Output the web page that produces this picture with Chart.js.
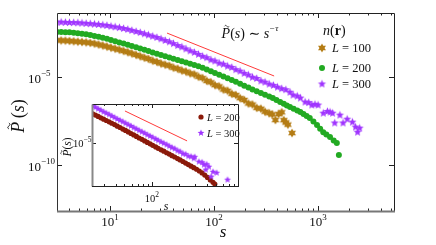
<!DOCTYPE html>
<html>
<head>
<meta charset="utf-8">
<script src="https://cdn.jsdelivr.net/npm/chart.js@4.4.1/dist/chart.umd.min.js"></script>
<style>
  html, body { margin: 0; padding: 0; background: #fff; }
  #wrap { position: relative; width: 436px; height: 245px; }
  #wrap canvas { position: absolute; left: 0; top: 0; }
</style>
</head>
<body>
<div id="wrap">
  <canvas id="main" width="436" height="245"></canvas>
  <canvas id="inset" width="436" height="245"></canvas>
</div>
<script>
// ---- main panel: cluster size s, log10 of P(s) ----
const sGrid = [3.09, 3.39, 3.72, 4.07, 4.47, 4.90, 5.37, 5.89, 6.46, 7.08, 7.76, 8.51, 9.33, 10.2, 11.2, 12.3, 13.5, 14.8, 16.2, 17.8,
  19.5, 21.4, 23.4, 25.7, 28.2, 30.9, 33.9, 37.2, 40.7, 44.7, 49.0, 53.7, 58.9, 64.6, 70.8, 77.6, 85.1, 93.3, 102, 112,
  123, 135, 148, 162, 178, 195, 214, 234, 257, 282, 309];

const logP100 = [-2.91, -2.92, -2.93, -2.95, -2.97, -2.99, -3.01, -3.03, -3.06, -3.10, -3.15, -3.21, -3.27, -3.33, -3.39, -3.45, -3.52, -3.59, -3.66, -3.74,
  -3.82, -3.90, -3.97, -4.07, -4.14, -4.23, -4.30, -4.36, -4.47, -4.53, -4.63, -4.69, -4.79, -4.85, -4.98, -5.06, -5.22, -5.30, -5.46, -5.53,
  -5.71, -5.78, -5.95, -6.02, -6.20, -6.30, -6.50, -6.56, -6.75, -6.80, -6.97];
const logP200 = [-2.44, -2.44, -2.45, -2.46, -2.48, -2.51, -2.54, -2.57, -2.61, -2.66, -2.71, -2.77, -2.83, -2.89, -2.96, -3.03, -3.10, -3.17, -3.24, -3.31,
  -3.38, -3.45, -3.52, -3.60, -3.68, -3.75, -3.82, -3.89, -3.96, -4.03, -4.10, -4.17, -4.24, -4.31, -4.39, -4.47, -4.57, -4.67, -4.77, -4.87,
  -4.97, -5.07, -5.17, -5.27, -5.38, -5.49, -5.60, -5.70, -5.80, -5.90, -6.00];
const logP300 = [-1.875, -1.88, -1.89, -1.90, -1.905, -1.915, -1.93, -1.95, -1.97, -1.99, -2.01, -2.04, -2.07, -2.11, -2.15, -2.19, -2.24, -2.29, -2.35, -2.41,
  -2.47, -2.54, -2.61, -2.68, -2.75, -2.83, -2.92, -3.00, -3.10, -3.21, -3.29, -3.40, -3.51, -3.60, -3.71, -3.82, -3.90, -4.02, -4.09, -4.21,
  -4.27, -4.38, -4.45, -4.58, -4.66, -4.79, -4.88, -5.01, -5.08, -5.22, -5.29];

// noisy large-s ends
const tailS100 = [339, 363, 389, 417, 447, 468, 490, 513, 562];
const tailP100 = [-7.05, -7.12, -7.44, -7.10, -7.00, -7.45, -7.58, -7.70, -8.18];
const tailS200 = [339, 367, 398, 432, 468, 501, 537, 582, 631, 676, 724, 776, 832, 902, 977, 1047, 1122, 1202, 1303, 1413, 1514, 1585];
const tailP200 = [-6.10, -6.19, -6.30, -6.42, -6.52, -6.61, -6.70, -6.80, -6.90, -6.99, -7.10, -7.21, -7.33, -7.52, -7.73, -7.93, -8.13, -8.26, -8.41, -8.60, -8.75, -9.43];
const tailS300 = [339, 372, 407, 447, 490, 537, 575, 631, 676, 750, 813, 871, 933, 1000, 1122, 1230, 1303, 1380, 1445, 1622, 1738, 1905, 2138, 2291, 2399, 2512];
const tailP300 = [-5.40, -5.47, -5.57, -5.66, -5.72, -5.86, -6.02, -6.08, -6.19, -6.42, -6.45, -6.59, -6.55, -6.59, -7.05, -6.95, -6.99, -7.05, -7.61, -7.16, -7.61, -7.39, -7.56, -7.84, -8.13, -7.90];

// guide line P ~ s^-tau
const guideS = [35.3, 378];
const guideP = [3.16e-3, 1.15e-5];

// ---- inset ----
const sInset = [22.4, 24.0, 25.7, 27.5, 29.5, 31.6, 33.9, 36.3, 38.9, 41.7, 44.7, 47.9, 51.3, 55.0, 58.9, 63.1, 67.6, 72.4, 77.6, 83.2,
  89.1, 95.5, 102, 110, 117, 126, 135, 145, 155, 166, 178, 191, 204, 219, 234, 251, 269, 288, 309, 331,
  355, 380, 407, 437, 468, 490];
const insetP200 = [-3.51, -3.57, -3.64, -3.71, -3.78, -3.85, -3.92, -3.99, -4.06, -4.14, -4.21, -4.29, -4.36, -4.44, -4.52, -4.59, -4.67, -4.75, -4.82, -4.90,
  -4.98, -5.05, -5.13, -5.21, -5.28, -5.36, -5.43, -5.51, -5.58, -5.66, -5.73, -5.81, -5.88, -5.96, -6.04, -6.12, -6.20, -6.28, -6.36, -6.45,
  -6.55, -6.66, -6.78, -6.91, -7.03, -7.12];
const insetP300 = [-3.10, -3.17, -3.25, -3.32, -3.40, -3.47, -3.54, -3.62, -3.69, -3.77, -3.84, -3.91, -3.99, -4.06, -4.13, -4.21, -4.28, -4.36, -4.43, -4.50,
  -4.58, -4.65, -4.72, -4.80, -4.87, -4.95, -5.02, -5.09, -5.17, -5.24, -5.30, -5.40, -5.45, -5.56, -5.58, -5.69, -5.70];
const insetTailS300 = [288, 295, 327, 355, 372, 389, 398, 422, 447, 468, 513, 676];
const insetTailP300 = [-5.80, -5.72, -5.97, -6.00, -6.13, -6.38, -6.10, -6.23, -6.74, -6.49, -6.54, -6.90];
const insetGuideS = [50.6, 243];
const insetGuideP = [4.37e-4, 1.26e-5];

const seriesLabels = ['L = 100', 'L = 200', 'L = 300'];
const xTickLabels = { 10: '1', 100: '2', 1000: '3' };
const yTickLabels = { 1e-5: '\u22125', 1e-10: '\u221210' };

const brown = '#b47c14';
const green = '#22aa22';
const purple = '#a035ff';
const darkRed = '#8b1a0a';
const guideRed = '#ff3a3a';

const serif = '"Liberation Serif", "DejaVu Serif", serif';
const fnt = (px, st) => (st ? st + ' ' : '') + px + 'px ' + serif;

function toPoints(xs, logs) {
  return logs.map((v, i) => ({ x: xs[i], y: Math.pow(10, v) }));
}

function starImage(points, outer, inner, color) {
  const c = document.createElement('canvas');
  const size = Math.ceil(outer * 2 + 2);
  c.width = size; c.height = size;
  const g = c.getContext('2d');
  g.translate(size / 2, size / 2);
  g.beginPath();
  for (let i = 0; i < points * 2; i++) {
    const r = i % 2 ? inner : outer;
    const a = -Math.PI / 2 + i * Math.PI / points;
    g.lineTo(r * Math.cos(a), r * Math.sin(a));
  }
  g.closePath();
  g.fillStyle = color;
  g.fill();
  return c;
}

const star6 = starImage(6, 4.6, 2.5, brown);
const star5 = starImage(5, 4.3, 1.9, purple);
const star5small = starImage(5, 3.6, 1.6, purple);

function drawTilde(ctx, cx, cy, w) {
  ctx.save();
  ctx.strokeStyle = ctx.fillStyle;
  ctx.lineWidth = Math.max(0.8, w * 0.16);
  ctx.beginPath();
  for (let i = 0; i <= 12; i++) {
    const t = i / 12;
    ctx.lineTo(cx - w / 2 + t * w, cy - Math.sin(t * 2 * Math.PI) * w * 0.18);
  }
  ctx.stroke();
  ctx.restore();
}

// parts: [text, font, dy, tildeSize]
function drawParts(ctx, parts, x, y, align) {
  let total = 0;
  const widths = parts.map(p => { ctx.font = p[1]; const w = ctx.measureText(p[0]).width; total += w; return w; });
  let cx = align === 'center' ? x - total / 2 : align === 'right' ? x - total : x;
  parts.forEach((p, i) => {
    ctx.font = p[1];
    ctx.fillText(p[0], cx, y + (p[2] || 0));
    if (p[3]) drawTilde(ctx, cx + widths[i] * 0.62, y - p[3] * 0.84, p[3] * 0.34);
    cx += widths[i];
  });
}

function pTilde(size) {
  return [['P', fnt(size, 'italic'), 0, size], ['(', fnt(size)], ['s', fnt(size, 'italic')], [')', fnt(size)]];
}

function drawFrame(chart, cfg) {
  const ctx = chart.ctx, a = chart.chartArea, xs = chart.scales.x, ys = chart.scales.y;
  ctx.save();
  ctx.strokeStyle = '#222';
  ctx.lineWidth = 1;
  const seg = (x1, y1, x2, y2) => { ctx.beginPath(); ctx.moveTo(x1, y1); ctx.lineTo(x2, y2); ctx.stroke(); };
  const xt = (v, len) => {
    const px = Math.round(xs.getPixelForValue(v)) + 0.5;
    seg(px, a.bottom, px, a.bottom - len);
    seg(px, a.top, px, a.top + len);
  };
  const yt = (v, len) => {
    const py = Math.round(ys.getPixelForValue(v)) + 0.5;
    seg(a.left, py, a.left + len, py);
    seg(a.right, py, a.right - len, py);
  };
  cfg.xMinor.forEach(v => xt(v, cfg.minor));
  cfg.xMajor.forEach(v => xt(v, cfg.major));
  cfg.yMajor.forEach(v => yt(v, cfg.major));
  // box
  const L = Math.round(a.left) + 0.5, R = Math.round(a.right) + 0.5, T = Math.round(a.top) + 0.5, B = Math.round(a.bottom) + 0.5;
  seg(L, T, R, T);
  seg(R, T, R, B);
  ctx.strokeStyle = cfg.leftColor; ctx.lineWidth = cfg.leftWidth;
  seg(L, T, L, B);
  ctx.strokeStyle = cfg.bottomColor; ctx.lineWidth = cfg.bottomWidth;
  seg(L - 0.5, B, R + 0.5, B);
  ctx.restore();
}

function minorsBetween(from, to) {
  const out = [];
  for (let d = from; d < to; d *= 10) for (let k = 2; k <= 9; k++) out.push(k * d);
  return out;
}

const mainPlugin = {
  id: 'mainDecor',
  afterDatasetsDraw(chart) {
    const ctx = chart.ctx, xs = chart.scales.x, ys = chart.scales.y;
    drawFrame(chart, {
      xMajor: [10, 100, 1000], xMinor: minorsBetween(1, 10000).filter(v => v > 3.1 && v < 5300),
      yMajor: [1e-5, 1e-10], major: 5, minor: 2.5,
      leftColor: '#333', leftWidth: 1, bottomColor: '#777', bottomWidth: 2
    });
    ctx.save();
    ctx.fillStyle = '#111';
    ctx.textBaseline = 'alphabetic';
    // tick labels
    Object.keys(xTickLabels).forEach(k => {
      const px = xs.getPixelForValue(Number(k));
      drawParts(ctx, [['10', fnt(13)], [xTickLabels[k], fnt(9), -6]], px, 226, 'center');
    });
    Object.keys(yTickLabels).forEach(k => {
      const py = ys.getPixelForValue(Number(k));
      drawParts(ctx, [['10', fnt(13)], [yTickLabels[k], fnt(9), -7]], 28, py + 5.5, 'left');
    });
    // axis titles
    drawParts(ctx, [['s', fnt(17, 'italic')]], 223, 237, 'center');
    ctx.save();
    ctx.translate(24, 116);
    ctx.rotate(-Math.PI / 2);
    drawParts(ctx, [['P', fnt(18, 'italic'), 0, 18], ['\u2009(', fnt(18)], ['s', fnt(18, 'italic')], [')', fnt(18)]], 0, 0, 'center');
    ctx.restore();
    // guide annotation
    drawParts(ctx, [['P', fnt(14, 'italic'), 0, 14], ['(', fnt(14)], ['s', fnt(14, 'italic')], [')', fnt(14)],
      [' \u223C ', fnt(14)], ['s', fnt(14, 'italic')], ['\u2212\u03C4', fnt(9, 'italic'), -7]], 250, 38, 'center');
    // legend
    drawParts(ctx, [['n', fnt(14, 'italic')], ['(', fnt(14)], ['r', fnt(14, 'bold')], [')', fnt(14)]], 323, 35, 'left');
    const rows = [48, 68, 84];
    ctx.drawImage(star6, 322 - star6.width / 2, rows[0] - star6.height / 2);
    ctx.beginPath(); ctx.arc(322, rows[1], 3, 0, 2 * Math.PI); ctx.fillStyle = green; ctx.fill();
    ctx.drawImage(star5, 322 - star5.width / 2, rows[2] - star5.height / 2);
    ctx.fillStyle = '#111';
    seriesLabels.forEach((lab, i) => {
      drawParts(ctx, [['L', fnt(12.5, 'italic')], [lab.slice(1), fnt(12.5)]], 332, rows[i] + 4, 'left');
    });
    ctx.restore();
  }
};

const insetPlugin = {
  id: 'insetDecor',
  beforeDatasetsDraw(chart) {
    const a = chart.chartArea, ctx = chart.ctx;
    ctx.save();
    ctx.fillStyle = '#fff';
    ctx.fillRect(a.left, a.top, a.right - a.left, a.bottom - a.top);
    ctx.restore();
  },
  afterDatasetsDraw(chart) {
    const ctx = chart.ctx, xs = chart.scales.x, ys = chart.scales.y;
    drawFrame(chart, {
      xMajor: [100], xMinor: [30, 40, 50, 60, 70, 80, 90, 200, 300, 400, 500, 600, 700, 800],
      yMajor: [1e-5], major: 4, minor: 2,
      leftColor: '#888', leftWidth: 2, bottomColor: '#222', bottomWidth: 1
    });
    ctx.save();
    ctx.fillStyle = '#111';
    drawParts(ctx, [['10', fnt(10.5)], ['2', fnt(7.5), -5]], xs.getPixelForValue(100), 202, 'center');
    drawParts(ctx, [['10', fnt(10.5)], ['\u22125', fnt(7.5), -5]], 73, ys.getPixelForValue(1e-5) + 4, 'left');
    drawParts(ctx, [['s', fnt(12, 'italic')]], 166, 210, 'center');
    ctx.save();
    ctx.translate(71, 147);
    ctx.rotate(-Math.PI / 2);
    drawParts(ctx, pTilde(11.5), 0, 0, 'center');
    ctx.restore();
    // legend
    ctx.beginPath(); ctx.arc(201, 117, 2.6, 0, 2 * Math.PI); ctx.fillStyle = darkRed; ctx.fill();
    ctx.drawImage(star5small, 201 - star5small.width / 2, 133 - star5small.height / 2);
    ctx.fillStyle = '#111';
    drawParts(ctx, [['L', fnt(10.5, 'italic')], [seriesLabels[1].slice(1), fnt(10.5)]], 207, 120.5, 'left');
    drawParts(ctx, [['L', fnt(10.5, 'italic')], [seriesLabels[2].slice(1), fnt(10.5)]], 207, 136.5, 'left');
    ctx.restore();
  }
};

function logAxes(xmin, xmax, ymin, ymax) {
  return {
    x: { type: 'logarithmic', min: xmin, max: xmax, display: false },
    y: { type: 'logarithmic', min: ymin, max: ymax, display: false }
  };
}

new Chart(document.getElementById('main'), {
  type: 'scatter',
  data: {
    datasets: [
      {
        label: seriesLabels[0],
        data: toPoints(sGrid, logP100).concat(toPoints(tailS100, tailP100)),
        pointStyle: star6, pointRadius: 4.6, clip: 0
      },
      {
        label: seriesLabels[1],
        data: toPoints(sGrid, logP200).concat(toPoints(tailS200, tailP200)),
        pointStyle: 'circle', pointRadius: 3, backgroundColor: green, borderWidth: 0, clip: 0
      },
      {
        label: seriesLabels[2],
        data: toPoints(sGrid, logP300).concat(toPoints(tailS300, tailP300)),
        pointStyle: star5, pointRadius: 4.3, clip: 0
      },
      {
        label: 'guide',
        data: guideS.map((s, i) => ({ x: s, y: guideP[i] })),
        showLine: true, pointRadius: 0, borderColor: guideRed, borderWidth: 1
      }
    ]
  },
  options: {
    responsive: false,
    animation: false,
    devicePixelRatio: 1,
    layout: { padding: { left: 57, top: 13, right: 42, bottom: 34 } },
    scales: logAxes(3.09, 5370, Math.pow(10, -12.61), Math.pow(10, -1.36)),
    plugins: { legend: { display: false }, tooltip: { enabled: false } }
  },
  plugins: [mainPlugin]
});

new Chart(document.getElementById('inset'), {
  type: 'scatter',
  data: {
    datasets: [
      {
        label: 'guide',
        data: insetGuideS.map((s, i) => ({ x: s, y: insetGuideP[i] })),
        showLine: true, pointRadius: 0, borderColor: guideRed, borderWidth: 1
      },
      {
        label: seriesLabels[2],
        data: toPoints(sInset, insetP300).concat(toPoints(insetTailS300, insetTailP300)),
        pointStyle: star5small, pointRadius: 3.6, clip: 0
      },
      {
        label: seriesLabels[1],
        data: toPoints(sInset, insetP200),
        pointStyle: 'circle', pointRadius: 2.6, backgroundColor: darkRed, borderWidth: 0, clip: 0
      }
    ]
  },
  options: {
    responsive: false,
    animation: false,
    devicePixelRatio: 1,
    layout: { padding: { left: 92, top: 104, right: 198, bottom: 59 } },
    scales: logAxes(22, 880, Math.pow(10, -7.2), 1e-3),
    plugins: { legend: { display: false }, tooltip: { enabled: false } }
  },
  plugins: [insetPlugin]
});
</script>
</body>
</html>
